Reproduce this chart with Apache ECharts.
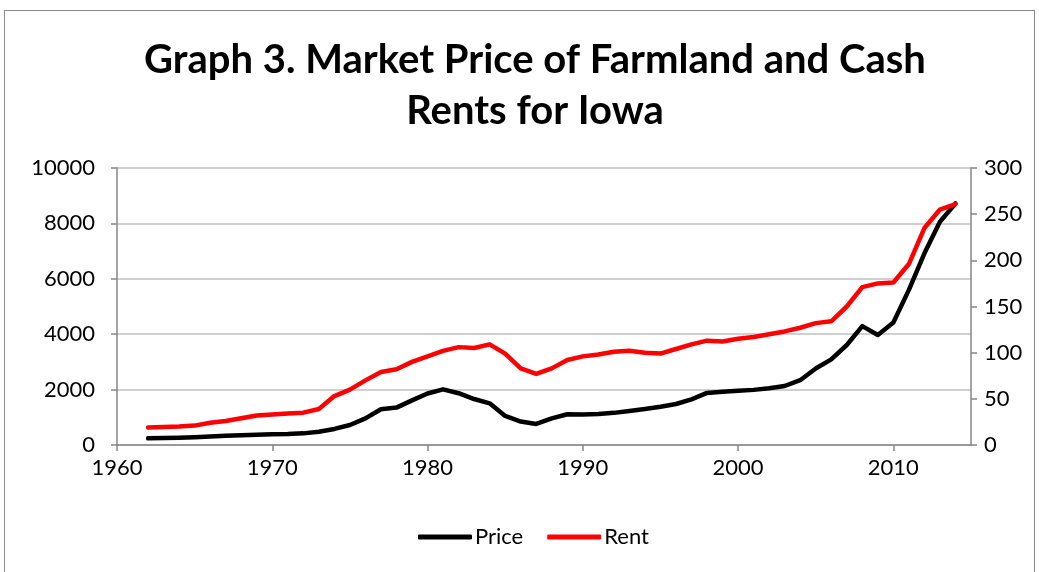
<!DOCTYPE html>
<html>
<head>
<meta charset="utf-8">
<script src="https://cdn.jsdelivr.net/npm/echarts@6/dist/echarts.min.js"></script>
<style>
  html, body { margin: 0; padding: 0; background: #fff; }
  #frame { position: absolute; left: 4px; top: 10px; width: 1031px; height: 600px; border: 1px solid #8c8c8c; box-sizing: border-box; }
  #chart { position: absolute; left: 0; top: 0; width: 1039px; height: 572px; }
</style>
</head>
<body>
<div id="frame"></div>
<div id="chart"></div>
<script>
// 年份和两条序列
const years = [1962, 1963, 1964, 1965, 1966, 1967, 1968, 1969, 1970, 1971, 1972, 1973, 1974, 1975, 1976, 1977, 1978, 1979, 1980, 1981,
  1982, 1983, 1984, 1985, 1986, 1987, 1988, 1989, 1990, 1991, 1992, 1993, 1994, 1995, 1996, 1997, 1998, 1999, 2000,
  2001, 2002, 2003, 2004, 2005, 2006, 2007, 2008, 2009, 2010, 2011, 2012, 2013, 2014];
const price = [240, 255, 265, 280, 305, 330, 350, 370, 390, 395, 420, 480, 580, 720, 960, 1290, 1350, 1610, 1860, 2010,
  1870, 1660, 1505, 1050, 845, 760, 960, 1110, 1100, 1120, 1160, 1230, 1300, 1380, 1480, 1650, 1880, 1920, 1960,
  1990, 2050, 2130, 2340, 2760, 3090, 3610, 4290, 3970, 4420, 5600, 6920, 8060, 8720];
const rent = [19, 19.5, 20, 21, 24, 26, 29, 32, 33, 34, 35, 39, 53, 60, 70, 79, 82, 90, 96, 102,
  106, 105, 109, 99, 83, 77, 83, 92, 96, 98, 101, 102, 100, 99, 104, 109, 113, 112, 115,
  117, 120, 123, 127, 132, 134, 150, 171, 175, 176, 196, 235, 255, 261];
const leftTicks = { min: 0, max: 10000, step: 2000 };
const rightTicks = { min: 0, max: 300, step: 50 };

const priceData = years.map((y, i) => [y, price[i]]);
const rentData = years.map((y, i) => [y, rent[i]]);

const font = 'Lato, "Open Sans", sans-serif';
const axisGray = '#868686';
const plain = v => String(v); // 不要千分位逗号

const chart = echarts.init(document.getElementById('chart'));
chart.setOption({
  animation: false,
  title: {
    text: 'Graph 3. Market Price of Farmland and Cash\nRents for Iowa',
    left: 530,
    top: 30,
    textAlign: 'center',
    textStyle: { fontFamily: font, fontWeight: 'bold', fontSize: 40, lineHeight: 51, color: '#000' }
  },
  legend: {
    left: 413,
    top: 521,
    itemWidth: 54,
    itemHeight: 5,
    itemGap: 24,
    icon: 'roundRect',
    textStyle: { fontFamily: font, fontSize: 22, color: '#000', padding: [0, 0, 0, -2] },
    data: ['Price', 'Rent']
  },
  grid: { left: 117, right: 68, top: 168, bottom: 127 },
  xAxis: {
    type: 'value',
    min: 1960,
    max: 2015,
    interval: 10,
    axisLine: { lineStyle: { color: axisGray, width: 1.5 } },
    axisTick: { show: true, length: 6, lineStyle: { color: axisGray, width: 1.5 } },
    axisLabel: { showMaxLabel: false, margin: 12, fontFamily: font, fontSize: 22, color: '#000', formatter: plain },
    splitLine: { show: false }
  },
  yAxis: [
    {
      type: 'value',
      min: leftTicks.min,
      max: leftTicks.max,
      interval: leftTicks.step,
      axisLine: { show: true, lineStyle: { color: axisGray, width: 1.5 } },
      axisTick: { show: true, length: 6, lineStyle: { color: axisGray, width: 1.5 } },
      axisLabel: { margin: 22, fontFamily: font, fontSize: 22, color: '#000', formatter: plain },
      splitLine: { show: true, lineStyle: { color: '#c0c0c0', width: 1.5 } }
    },
    {
      type: 'value',
      position: 'right',
      min: rightTicks.min,
      max: rightTicks.max,
      interval: rightTicks.step,
      axisLine: { show: true, lineStyle: { color: axisGray, width: 1.5 } },
      axisTick: { show: true, length: 6, lineStyle: { color: axisGray, width: 1.5 } },
      axisLabel: { margin: 13, fontFamily: font, fontSize: 22, color: '#000', formatter: plain },
      splitLine: { show: false }
    }
  ],
  series: [
    {
      name: 'Price',
      type: 'line',
      yAxisIndex: 0,
      data: priceData,
      symbol: 'none',
      lineStyle: { color: '#000', width: 4.5, cap: 'round', join: 'round' },
      itemStyle: { color: '#000' }
    },
    {
      name: 'Rent',
      type: 'line',
      yAxisIndex: 1,
      data: rentData,
      symbol: 'none',
      lineStyle: { color: '#ff0000', width: 4.5, cap: 'round', join: 'round' },
      itemStyle: { color: '#ff0000' }
    }
  ]
});
</script>
</body>
</html>
